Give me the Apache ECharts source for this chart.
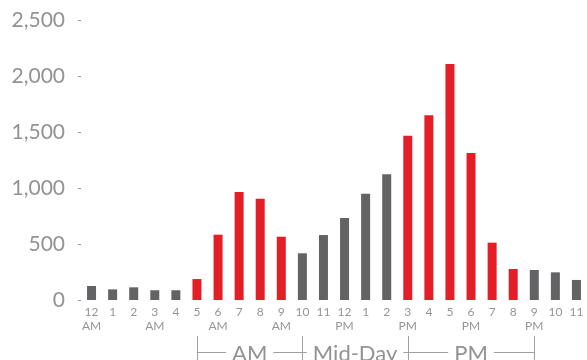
<!DOCTYPE html>
<html>
<head>
<meta charset="utf-8">
<script src="https://cdn.jsdelivr.net/npm/echarts@6/dist/echarts.min.js"></script>
<style>
html,body{margin:0;padding:0;background:#fff;}
#chart{width:587px;height:360px;}
</style>
</head>
<body>
<div id="chart"></div>
<script>
var hourLabels = ['12','1','2','3','4','5','6','7','8','9','10','11','12','1','2','3','4','5','6','7','8','9','10','11'];
var periodLabels = ['AM','','','AM','','','AM','','','AM','','','PM','','','PM','','','PM','','','PM','',''];
var values = [125,95,113,87,87,187,583,964,905,565,417,580,732,949,1122,1467,1649,2107,1313,512,277,268,247,179];
var peak = [false,false,false,false,false,true,true,true,true,true,false,false,false,false,false,true,true,true,true,true,true,false,false,false];
var yTicks = [0,500,1000,1500,2000,2500];
var bracketNames = ['AM','Mid-Day','PM'];
var bracketEdges = [5,10,15,21];

var RED = '#E41E26', GRAY = '#636366';
var chart = echarts.init(document.getElementById('chart'));
var cats = hourLabels.map(function(h,i){return i;});
chart.setOption({
  animation:false,
  grid:{left:81,right:-5,top:20,bottom:60},
  xAxis:{
    type:'category',
    data:cats,
    axisLine:{show:false},
    axisTick:{show:false},
    axisLabel:{
      interval:0,
      margin:5,
      color:'#959595',
      fontFamily:'Lato',
      fontSize:12,
      lineHeight:14,
      formatter:function(v,i){
        var idx = Number(v);
        return periodLabels[idx] ? hourLabels[idx]+'\n'+periodLabels[idx] : hourLabels[idx]+'\n ';
      }
    }
  },
  yAxis:{
    type:'value',
    min:yTicks[0],
    max:yTicks[yTicks.length-1],
    interval:500,
    splitLine:{show:false},
    axisLine:{show:false},
    axisTick:{show:true,length:3,lineStyle:{color:'#999999'}},
    axisLabel:{
      margin:16,
      color:'#939393',
      fontFamily:'Lato',
      fontSize:21,
      formatter:function(v){return v.toLocaleString('en-US');}
    }
  },
  series:[{
    type:'bar',
    barWidth:9,
    data:values.map(function(v,i){return {value:v,itemStyle:{color:peak[i]?RED:GRAY}};})
  }]
});

var elements = [];
var lineY = 352.5, lineColor = '#a0a0a0';
var xs = bracketEdges.map(function(e){return chart.convertToPixel({xAxisIndex:0}, e);});
xs.forEach(function(x){
  elements.push({type:'line',shape:{x1:Math.round(x)+0.5,y1:336,x2:Math.round(x)+0.5,y2:362},style:{stroke:lineColor,lineWidth:1},z:10});
});
elements.push({type:'line',shape:{x1:xs[0],y1:lineY,x2:xs[xs.length-1],y2:lineY},style:{stroke:lineColor,lineWidth:1},z:10});
bracketNames.forEach(function(n,i){
  elements.push({type:'text',x:(xs[i]+xs[i+1])/2,y:354,z:11,style:{
    text:n,align:'center',verticalAlign:'middle',fontFamily:'Lato',fontSize:22,fill:'#939393',
    backgroundColor:'#fff',padding:[0,6]
  }});
});
chart.setOption({graphic:{elements:elements}});
</script>
</body>
</html>
